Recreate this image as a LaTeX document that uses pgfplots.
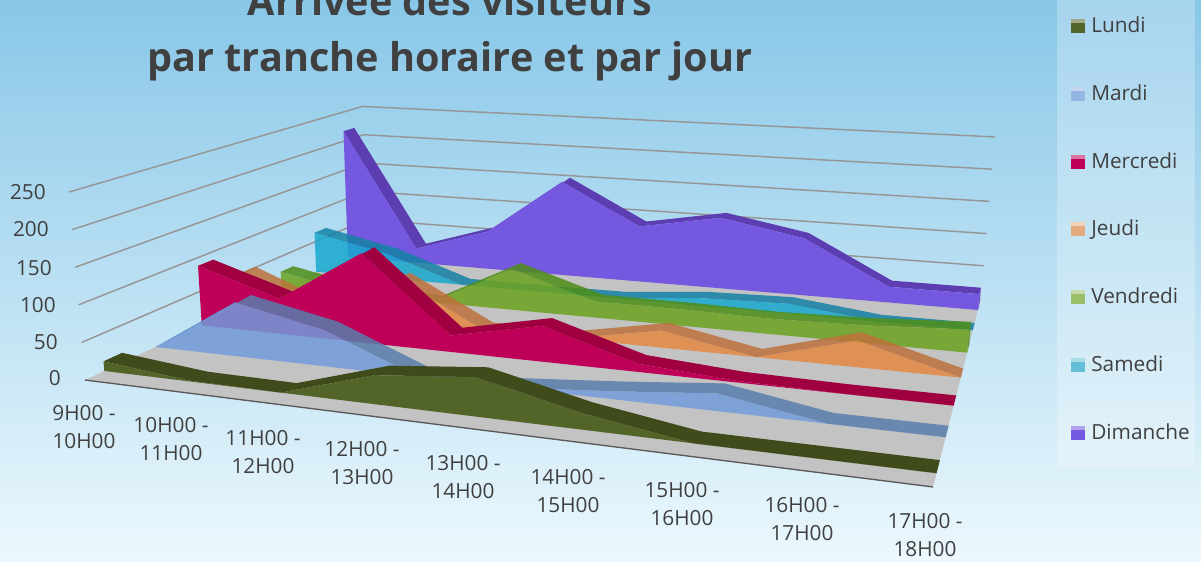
\documentclass[border=0pt]{standalone}
\usepackage{pgfplots}
\pgfplotsset{compat=1.18}
\usepackage{pgfplotstable}
\usepackage{fontspec}
\setmainfont{Open Sans}
\definecolor{txt}{RGB}{64,64,64}
\definecolor{gridc}{RGB}{150,150,150}
\definecolor{floorc}{RGB}{195,195,195}
\definecolor{bgtop}{RGB}{136,199,232}
\definecolor{bgmid}{RGB}{180,219,241}
\definecolor{bgbot}{RGB}{236,248,253}
\definecolor{lunF}{RGB}{82,100,40}\definecolor{lunR}{RGB}{64,75,27}
\definecolor{marF}{RGB}{114,156,220}\definecolor{marR}{RGB}{90,126,173}
\definecolor{merF}{RGB}{190,0,88}\definecolor{merR}{RGB}{160,0,64}
\definecolor{jeuF}{RGB}{227,136,66}\definecolor{jeuR}{RGB}{189,113,60}
\definecolor{venF}{RGB}{109,163,31}\definecolor{venR}{RGB}{78,142,24}
\definecolor{samF}{RGB}{24,168,207}\definecolor{samR}{RGB}{19,130,165}
\definecolor{dimF}{RGB}{117,88,224}\definecolor{dimR}{RGB}{92,62,178}
\definecolor{sLun}{RGB}{82,100,40}\definecolor{sMar}{RGB}{148,182,226}
\definecolor{sMer}{RGB}{190,0,88}\definecolor{sJeu}{RGB}{228,170,125}
\definecolor{sVen}{RGB}{155,190,105}\definecolor{sSam}{RGB}{100,190,215}
\definecolor{sDim}{RGB}{117,88,224}
% i = time slot, val = visitors, s = 0 front/top pass, 1 return pass
\pgfplotstableread[row sep=\\]{i val s\\0 13 0\\1 1 0\\2 0 0\\3 37 0\\4 49 0\\5 20 0\\6 0 0\\7 0 0\\8 0 0\\8 0 1\\7 0 1\\6 0 1\\5 20 1\\4 49 1\\3 37 1\\2 0 1\\1 1 1\\0 13 1\\}\tLun
\pgfplotstableread[row sep=\\]{i val s\\0 0 0\\1 75 0\\2 50 0\\3 1 0\\4 0 0\\5 10 0\\6 22 0\\7 0 0\\8 0 0\\8 0 1\\7 0 1\\6 22 1\\5 10 1\\4 0 1\\3 1 1\\2 50 1\\1 75 1\\0 0 1\\}\tMar
\pgfplotstableread[row sep=\\]{i val s\\0 88 0\\1 51 0\\2 127 0\\3 23 0\\4 49 0\\5 11 0\\6 2 0\\7 0 0\\8 0 0\\8 0 1\\7 0 1\\6 2 1\\5 11 1\\4 49 1\\3 23 1\\2 127 1\\1 51 1\\0 88 1\\}\tMer
\pgfplotstableread[row sep=\\]{i val s\\0 51 0\\1 5 0\\2 63 0\\3 0 0\\4 0 0\\5 24 0\\6 0 0\\7 36 0\\8 0 0\\8 0 1\\7 36 1\\6 0 1\\5 24 1\\4 0 1\\3 0 1\\2 63 1\\1 5 1\\0 51 1\\}\tJeu
\pgfplotstableread[row sep=\\]{i val s\\0 26 0\\1 3 0\\2 0 0\\3 62 0\\4 24 0\\5 24 0\\6 22 0\\7 25 0\\8 32 0\\8 32 1\\7 25 1\\6 22 1\\5 24 1\\4 24 1\\3 62 1\\2 0 1\\1 3 1\\0 26 1\\}\tVen
\pgfplotstableread[row sep=\\]{i val s\\0 65 0\\1 40 0\\2 0 0\\3 0 0\\4 1 0\\5 12 0\\6 15 0\\7 0 0\\8 0 0\\8 0 1\\7 0 1\\6 15 1\\5 12 1\\4 1 1\\3 0 1\\2 0 1\\1 40 1\\0 65 1\\}\tSam
\pgfplotstableread[row sep=\\]{i val s\\0 217 0\\1 24 0\\2 62 0\\3 153 0\\4 89 0\\5 112 0\\6 89 0\\7 24 0\\8 24 0\\8 24 1\\7 24 1\\6 89 1\\5 112 1\\4 89 1\\3 153 1\\2 62 1\\1 24 1\\0 217 1\\}\tDim
% end caps at the last time slot: d = depth side
\pgfplotstableread[row sep=\\]{val d\\0 0\\32 0\\32 1\\0 1\\}\cVen
\pgfplotstableread[row sep=\\]{val d\\0 0\\24 0\\24 1\\0 1\\}\cDim
\newcommand{\serie}[5]{%
 \addplot[fill=#3,draw=none,fill opacity=#5] table[x expr={PX(\thisrow{i}/8,#2+0.05*\thisrow{s},\thisrow{val})},y expr={PY(\thisrow{i}/8,#2+0.05*\thisrow{s},\thisrow{val})}] {#1};
 \addplot[fill=#4,draw=none,fill opacity=#5] table[x expr={PX(\thisrow{i}/8,#2,\thisrow{val}*(1-\thisrow{s}))},y expr={PY(\thisrow{i}/8,#2,\thisrow{val}*(1-\thisrow{s}))}] {#1};
}
\newcommand{\capp}[3]{%
 \addplot[fill=#3,draw=none,fill opacity=.85] table[x expr={PX(1,#2+0.05*\thisrow{d},\thisrow{val})},y expr={PY(1,#2+0.05*\thisrow{d},\thisrow{val})}] {#1};
}
\newcommand{\gridl}[1]{%
 \addplot[gridc,line width=1.1pt] coordinates {({PX(0,0,#1)},{PY(0,0,#1)}) ({PX(0,1,#1)},{PY(0,1,#1)}) ({PX(1,1,#1)},{PY(1,1,#1)})};
}
\newcommand{\lab}[4]{\node[font=\fontsize{15.6}{21.5}\selectfont,text=txt,align=center,inner sep=0pt] at (axis cs:#1,#2) {#3\\#4};}
\newcommand{\ylab}[3]{\node[font=\fontsize{15.6}{21}\selectfont,text=txt,anchor=east,inner sep=0pt] at (axis cs:#1,#2) {#3};}
\newcommand{\leg}[3]{%
 \fill[#3] (axis cs:1071,#1) rectangle (axis cs:1085,#1+14);
 \fill[white,opacity=.45] (axis cs:1071,#1) rectangle (axis cs:1085,#1+4);
 \node[font=\fontsize{15.6}{21}\selectfont,text=txt,anchor=base west,inner sep=0pt] at (axis cs:1091,#1+13) {#2};
}
\begin{document}
\begin{tikzpicture}
\clip (0,0) rectangle (900.75pt,420.75pt);
\shade[top color=bgtop,middle color=bgmid,bottom color=bgbot] (0,0) rectangle (900.75pt,420.75pt);
\begin{axis}[at={(0,0)},anchor=south west,width=900.75pt,height=420.75pt,scale only axis,hide axis,
 xmin=0,xmax=1201,ymin=0,ymax=561,y dir=reverse,no markers,clip=false,
 declare function={
  W(\u,\v)=1-0.1967*\u+0.3965*\v;
  H(\u,\v,\z)=\z*0.752/pow(W(\u,\v),0.85);
  BX(\u,\v)=(664.5*\u+427.5*\v+85)/W(\u,\v);
  BY(\u,\v)=(11.2*\u-33.7*\v+380)/W(\u,\v);
  PX(\u,\v,\z)=BX(\u,\v)+H(\u,\v,\z)*(BX(\u,\v)-533)/5270;
  PY(\u,\v,\z)=BY(\u,\v)-H(\u,\v,\z);
 }]
% legend panel
\fill[white,opacity=.26] (axis cs:1057,0) rectangle (axis cs:1195,467);
% wall grid
\gridl{50}\gridl{100}\gridl{150}\gridl{200}\gridl{250}
% floor
\addplot[fill=floorc,draw=none] coordinates {({PX(0,0,0)},{PY(0,0,0)}) ({PX(1,0,0)},{PY(1,0,0)}) ({PX(1,1,0)},{PY(1,1,0)}) ({PX(0,1,0)},{PY(0,1,0)})};
\addplot[black!65,line width=1pt] coordinates {({PX(0,0,0)},{PY(0,0,0)}) ({PX(1,0,0)},{PY(1,0,0)})};
% series, back to front
\capp{\cDim}{0.908}{dimR}
\serie{\tDim}{0.908}{dimR}{dimF}{1}
\serie{\tSam}{0.765}{samR}{samF}{.85}
\capp{\cVen}{0.622}{venR}
\serie{\tVen}{0.622}{venR}{venF}{.85}
\serie{\tJeu}{0.479}{jeuR}{jeuF}{.85}
\serie{\tMer}{0.336}{merR}{merF}{1}
\serie{\tMar}{0.193}{marR}{marF}{.85}
\serie{\tLun}{0.05}{lunR}{lunF}{1}
% title
\node[font=\fontsize{29.7}{44}\selectfont\bfseries,text=txt,inner sep=0pt,anchor=base] at (axis cs:450,71) {par tranche horaire et par jour};
\node[font=\fontsize{29.7}{44}\selectfont\bfseries,text=txt,inner sep=0pt,anchor=base] at (axis cs:450,15) {Arrivée des visiteurs};
% y labels
\ylab{46}{192}{250}\ylab{49}{229}{200}\ylab{52}{268}{150}\ylab{56}{305}{100}\ylab{58}{342}{50}\ylab{61}{378}{0}
% x labels
\lab{84}{427}{9H00 -}{10H00}
\lab{171}{439}{10H00 -}{11H00}
\lab{263}{452}{11H00 -}{12H00}
\lab{362}{463}{12H00 -}{13H00}
\lab{463}{477}{13H00 -}{14H00}
\lab{568}{491}{14H00 -}{15H00}
\lab{682}{504}{15H00 -}{16H00}
\lab{802}{519}{16H00 -}{17H00}
\lab{925}{535}{17H00 -}{18H00}
% legend
\leg{19}{Lundi}{sLun}
\leg{87}{Mardi}{sMar}
\leg{155}{Mercredi}{sMer}
\leg{222}{Jeudi}{sJeu}
\leg{290}{Vendredi}{sVen}
\leg{358}{Samedi}{sSam}
\leg{426}{Dimanche}{sDim}
\end{axis}
\end{tikzpicture}
\end{document}
